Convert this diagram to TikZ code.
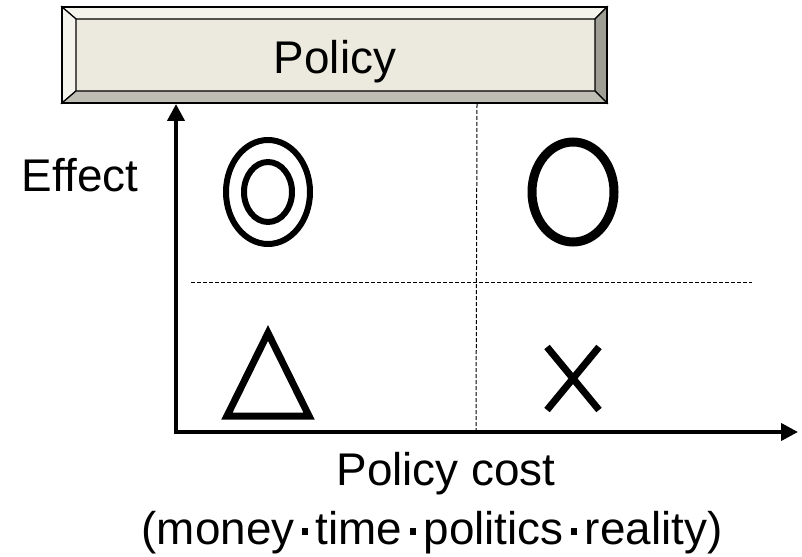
\documentclass[tikz,border=0pt]{standalone}
\usepackage{fontspec}
\setmainfont{Liberation Sans}
\usetikzlibrary{arrows.meta, calc, positioning}

\definecolor{faceclr}{HTML}{ECEADF}
\definecolor{lightclr}{HTML}{F4F3EC}
\definecolor{lowclr}{HTML}{BEBEB4}
\definecolor{darkclr}{HTML}{9E9E94}

\newcommand{\sepdot}{\,\rule[0.2em]{0.13em}{0.15em}\,}

\tikzset{
	bevel/.style={draw=black, line width=1.2bp, line join=miter},
	axisline/.style={line width=4bp, -{Triangle[length=17bp,width=17bp]}},
	quadline/.style={line width=1bp, dash pattern=on 4bp off 2bp},
	symbol/.style={line width=7bp},
	bigtext/.style={font=\fontsize{46}{50}\selectfont, inner sep=0pt}
}

\begin{document}
\begin{tikzpicture}[x=1bp, y=-1bp]
	\useasboundingbox (0,0) rectangle (802,557);
	% policy bar
	\begin{scope}
		\fill[faceclr] (62,7) rectangle (607,103);
		\draw[bevel, fill=lightclr] (62,7) -- (607,7) -- (595,19) -- (76,19) -- cycle;
		\draw[bevel, fill=lightclr] (62,7) -- (76,19) -- (76,91) -- (62,103) -- cycle;
		\draw[bevel, fill=darkclr] (607,7) -- (607,103) -- (595,91) -- (595,19) -- cycle;
		\draw[bevel, fill=lowclr] (62,103) -- (607,103) -- (595,91) -- (76,91) -- cycle;
		\draw[bevel] (62,7) rectangle (607,103);
	\end{scope}
	\node[bigtext, anchor=base] (policy) at (335,74) {Policy};

	% axes
	\coordinate (origin) at (176,432);
	\coordinate (ytip) at (176,104);
	\coordinate (xtip) at (798,432);
	\draw[axisline] ($(origin)+(0,2)$) -- (ytip);
	\draw[axisline] ($(origin)+(-2,0)$) -- (xtip);

	% quadrants
	\coordinate (vtop) at (477,104);
	\coordinate (vbot) at (476,430);
	\coordinate (hleft) at (191,283);
	\coordinate (hright) at (752,283);
	\draw[quadline] (vtop) -- (vbot);
	\draw[quadline] (hleft) -- (hright);

	% symbols
	\draw[line width=6bp] (268,192) ellipse (42 and 52);
	\draw[line width=6bp] (268,192) ellipse (24 and 30);
	\draw[line width=9bp] (573,192) ellipse (41 and 50);
	\draw[symbol, line join=miter] (268,333) -- (309,416) -- (227,416) -- cycle;
	\draw[symbol] (547,347) -- (599,410);
	\draw[symbol] (599,347) -- (547,410);

	% labels
	\node[bigtext, anchor=base] (effect) at (80,192) {Effect};
	\node[bigtext, anchor=base] (cost) at (446,485) {Policy cost};
	\node[bigtext, anchor=base] (costs) at (432,544) {(money\sepdot time\sepdot politics\sepdot reality)};
\end{tikzpicture}
\end{document}
